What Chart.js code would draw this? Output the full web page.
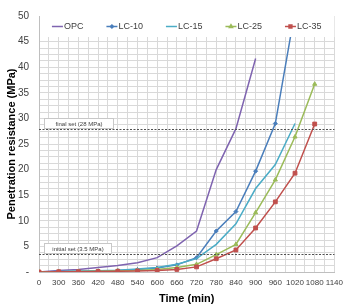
<!DOCTYPE html>
<html>
<head>
<meta charset="utf-8">
<script src="https://cdn.jsdelivr.net/npm/chart.js@4.4.0/dist/chart.umd.min.js"></script>
<style>
  html, body { margin: 0; padding: 0; background: #fff; }
  #wrap { width: 349px; height: 307px; position: relative; }
</style>
</head>
<body>
<div id="wrap"><canvas id="setChart"></canvas></div>
<script>
// time categories (min), evenly spaced like an Excel category axis
const timeLabels = ['0', '300', '360', '420', '480', '540', '600', '660', '720', '780', '840', '900', '960', '1020', '1080', '1140'];

// penetration resistance (MPa)
const opc  = [0, 0.3, 0.5, 0.9, 1.25, 1.8, 2.8, 5.1, 8.0, 20.0, 28.0, 41.7];
const lc10 = [0, 0.1, 0.15, 0.2, 0.3, 0.5, 0.8, 1.4, 2.8, 8.0, 11.8, 19.7, 29.0, 51];
const lc15 = [0, 0.1, 0.15, 0.25, 0.35, 0.6, 0.9, 1.5, 2.6, 5.4, 9.4, 16.3, 21.0, 29.0];
const lc25 = [0, 0.05, 0.1, 0.15, 0.2, 0.3, 0.5, 0.9, 1.5, 3.4, 5.4, 11.6, 18.0, 26.4, 36.7];
const lc35 = [0, 0.05, 0.05, 0.1, 0.15, 0.2, 0.3, 0.5, 1.0, 2.6, 4.3, 8.6, 13.7, 19.3, 28.9];

const finalSet = 28;
const initialSet = 3.5;

const seriesNames = ['OPC', 'LC-10', 'LC-15', 'LC-25', 'LC-35'];
const seriesData = [opc, lc10, lc15, lc25, lc35];
const seriesColors = ['#7f64b0', '#4a7ebb', '#4bacc6', '#9bbb59', '#c0504d'];
const seriesMarkers = [null, 'rectRot', null, 'triangle', 'rect'];
const markerSizes = [0, 2, 0, 2.4, 2.7];

const FONT = "'Liberation Sans', Arial, sans-serif";

const datasets = seriesNames.map((name, i) => ({
    label: name,
    data: seriesData[i].map((v, k) => ({ x: k, y: v })),
    borderColor: seriesColors[i],
    backgroundColor: seriesColors[i],
    borderWidth: 1.5,
    tension: 0,
    pointStyle: seriesMarkers[i] || 'circle',
    pointRadius: markerSizes[i],
    pointBorderWidth: 1,
    order: seriesNames.length - i // last series on top, as in Excel
}));

// set-time lines, their labels and the legend box inside the plot
const overlayPlugin = {
    id: 'overlay',
    afterDatasetsDraw(chart) {
        const { ctx, chartArea: a, scales: { y } } = chart;
        ctx.save();

        [[finalSet, 'final set (28 MPa)', 69], [initialSet, 'initial set (3.5 MPa)', 67]].forEach(([val, txt, w]) => {
            const py = Math.round(y.getPixelForValue(val)) + 0.5;
            ctx.strokeStyle = '#505050';
            ctx.lineWidth = 1.1;
            ctx.setLineDash([2, 1.5]);
            ctx.beginPath();
            ctx.moveTo(a.left, py);
            ctx.lineTo(a.right, py);
            ctx.stroke();
            ctx.setLineDash([]);

            const bx = a.left + 5.5, bh = 10, by = py - bh - 1;
            ctx.fillStyle = '#fff';
            ctx.fillRect(bx, by, w, bh);
            ctx.strokeStyle = '#c8c8c8';
            ctx.lineWidth = 1;
            ctx.strokeRect(bx, by, w, bh);
            ctx.fillStyle = '#404040';
            ctx.font = '6px ' + FONT;
            ctx.textAlign = 'center';
            ctx.textBaseline = 'middle';
            ctx.fillText(txt, bx + w / 2, by + bh / 2 + 0.5);
        });

        // legend
        ctx.fillStyle = '#fff';
        ctx.fillRect(a.left + 1, a.top, a.right - a.left - 1, 21);

        ctx.font = '9px ' + FONT;
        const sampleW = 11, gap = 23;
        const widths = seriesNames.map(n => sampleW + 1 + ctx.measureText(n).width);
        const total = widths.reduce((s, w) => s + w, 0) + gap * (widths.length - 1);
        let x = (a.left + a.right) / 2 - total / 2;
        const ly = a.top + 10.5;
        seriesNames.forEach((name, i) => {
            ctx.strokeStyle = seriesColors[i];
            ctx.fillStyle = seriesColors[i];
            ctx.lineWidth = 1.5;
            ctx.beginPath();
            ctx.moveTo(x, ly);
            ctx.lineTo(x + sampleW, ly);
            ctx.stroke();
            if (seriesMarkers[i]) {
                Chart.helpers.drawPoint(ctx, {
                    pointStyle: seriesMarkers[i], radius: markerSizes[i] * 0.75, rotation: 0, borderWidth: 1
                }, x + sampleW / 2, ly);
            }
            ctx.fillStyle = '#404040';
            ctx.textAlign = 'left';
            ctx.textBaseline = 'middle';
            ctx.fillText(name, x + sampleW + 1, ly + 0.5);
            x += widths[i] + gap;
        });

        ctx.restore();
    }
};

new Chart(document.getElementById('setChart'), {
    type: 'line',
    data: { datasets: datasets },
    options: {
        responsive: true,
        maintainAspectRatio: false,
        animation: false,
        layout: { padding: { top: 5, right: 4, left: 0, bottom: 0 }, autoPadding: false },
        plugins: {
            legend: { display: false },
            tooltip: { enabled: false }
        },
        scales: {
            x: {
                type: 'linear',
                min: 0,
                max: timeLabels.length - 1,
                grid: { color: '#d9d9d9', drawTicks: false },
                border: { color: '#bfbfbf' },
                ticks: {
                    stepSize: 0.5,
                    autoSkip: false,
                    maxRotation: 0,
                    padding: 6,
                    color: '#404040',
                    font: { family: FONT, size: 8 },
                    callback: v => Number.isInteger(v) ? timeLabels[v] : ''
                },
                title: {
                    display: true,
                    text: 'Time (min)',
                    color: '#000',
                    font: { family: FONT, size: 11, weight: 'bold' },
                    padding: { top: 0, bottom: 1 }
                },
                afterFit: s => { s.height = 35; }
            },
            y: {
                min: 0,
                max: 50,
                grid: { color: '#d9d9d9', drawTicks: false },
                border: { color: '#bfbfbf' },
                ticks: {
                    stepSize: 1.25,
                    autoSkip: false,
                    padding: 10,
                    color: '#404040',
                    font: { family: FONT, size: 10 },
                    callback: v => v % 5 === 0 ? (v === 0 ? '-' : v) : ''
                },
                title: {
                    display: true,
                    text: 'Penetration resistance (MPa)',
                    color: '#000',
                    font: { family: FONT, size: 11, weight: 'bold' },
                    padding: { top: 5, bottom: 0 }
                },
                afterFit: s => { s.width = 39; }
            }
        }
    },
    plugins: [overlayPlugin]
});
</script>
</body>
</html>
